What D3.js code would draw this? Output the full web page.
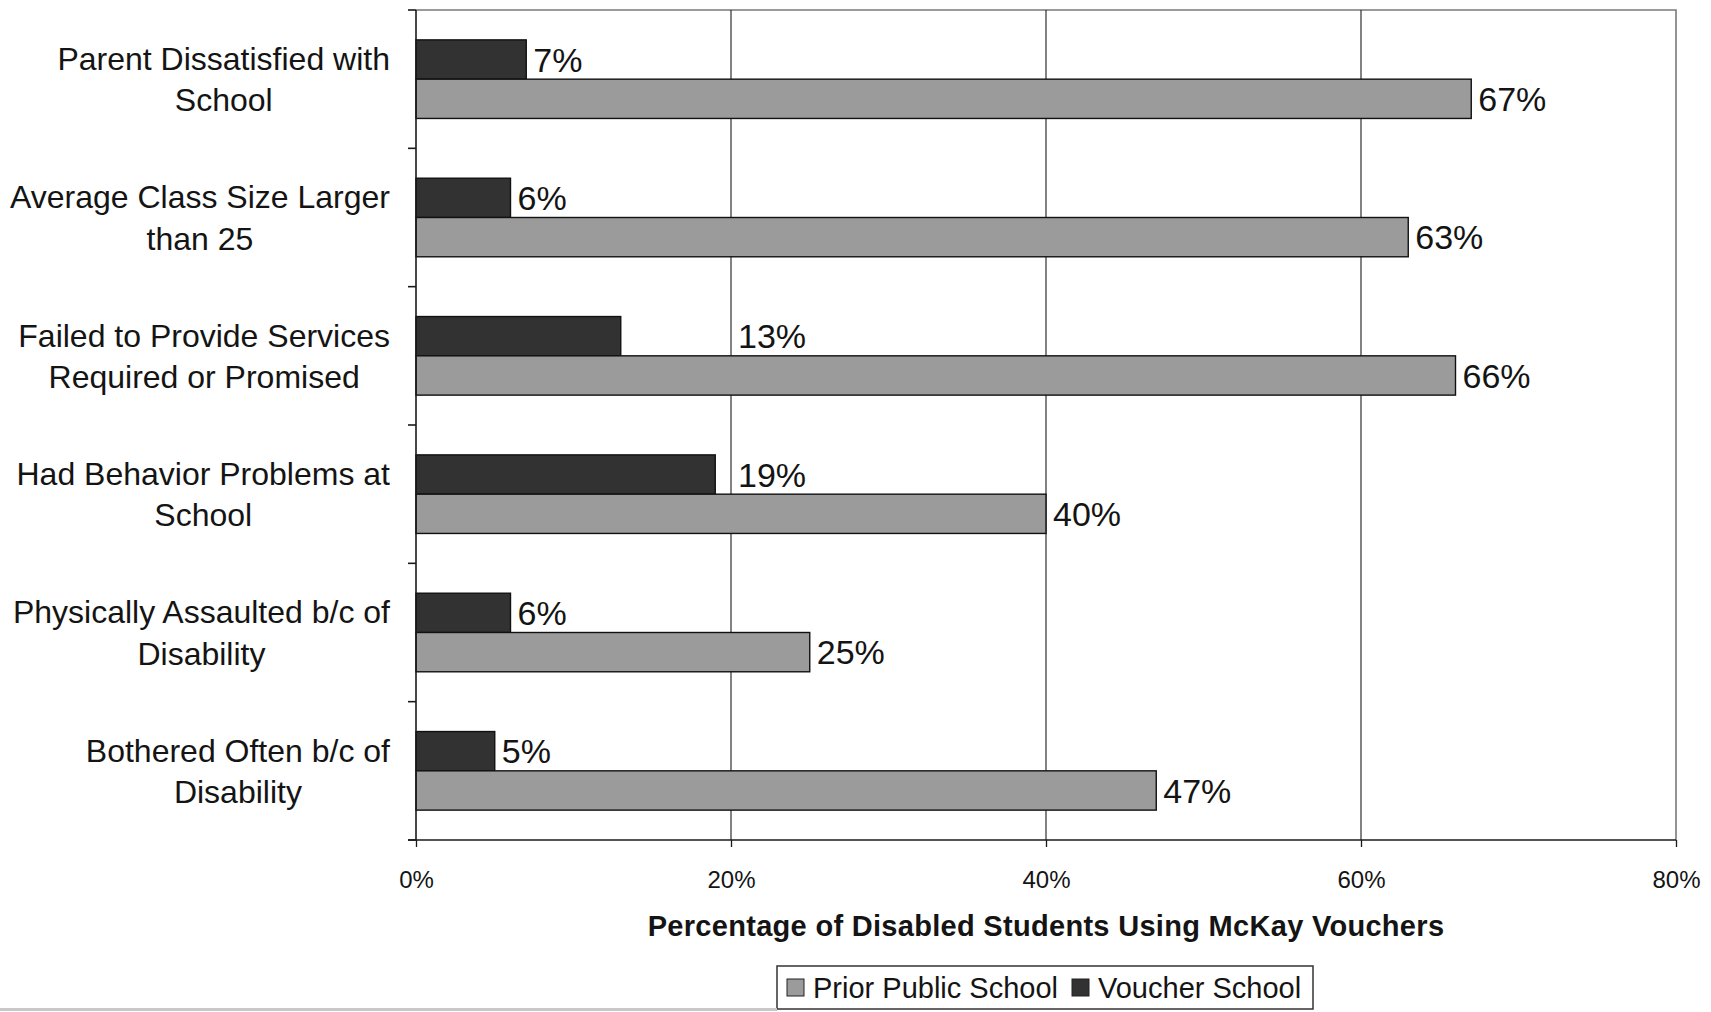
<!DOCTYPE html>
<html>
<head>
<meta charset="utf-8">
<script src="https://cdn.jsdelivr.net/npm/d3@7"></script>
<style>
  html, body { margin: 0; padding: 0; background: #ffffff; }
  svg { display: block; }
  text { font-family: "Liberation Sans", Arial, Helvetica, sans-serif; fill: #141414; }
</style>
</head>
<body>
<svg id="chart" width="1711" height="1012"></svg>
<script>
// Reasons parents gave for leaving the prior public school, with the
// matching share reported at the McKay voucher school.
const categories = [
  "Parent Dissatisfied with\nSchool",
  "Average Class Size Larger\nthan 25",
  "Failed to Provide Services\nRequired or Promised",
  "Had Behavior Problems at\nSchool",
  "Physically Assaulted b/c of\nDisability",
  "Bothered Often b/c of\nDisability"
];
const seriesNames = ["Prior Public School", "Voucher School"];
const priorPublic = [67, 63, 66, 40, 25, 47];
const voucherSchool = [7, 6, 13, 19, 6, 5];
const xTicks = [0, 20, 40, 60, 80];
const xTitle = "Percentage of Disabled Students Using McKay Vouchers";

const colors = { "Prior Public School": "#9b9b9b", "Voucher School": "#323232" };

const svg = d3.select("#chart");
const W = 1711, H = 1012;
const plot = { left: 416, right: 1676, top: 10, bottom: 840 };

const x = d3.scaleLinear().domain([0, 80]).range([plot.left, plot.right]);
const y = d3.scaleBand().domain(categories)
  .range([plot.top, plot.bottom])
  .paddingInner(0.432).paddingOuter(0.216);
// Voucher bar sits above the prior-school bar inside each group
const barOrder = ["Voucher School", "Prior Public School"];
const ySub = d3.scaleBand().domain(barOrder).range([0, y.bandwidth()]);

const rows = categories.map((c, i) => ({
  category: c,
  "Prior Public School": priorPublic[i],
  "Voucher School": voucherSchool[i]
}));

// plot-area frame (top and right edges)
svg.append("path")
  .attr("d", `M${plot.left},${plot.top}H${plot.right}V${plot.bottom}`)
  .attr("fill", "none").attr("stroke", "#7a7a7a").attr("stroke-width", 1.6);

// vertical gridlines
svg.append("g").selectAll("line")
  .data(xTicks.filter(t => t > 0 && t < 80))
  .join("line")
  .attr("x1", d => x(d)).attr("x2", d => x(d))
  .attr("y1", plot.top).attr("y2", plot.bottom)
  .attr("stroke", "#1c1c1c").attr("stroke-width", 1.1);

// bars
const groups = svg.append("g").selectAll("g")
  .data(rows).join("g")
  .attr("transform", d => `translate(0,${y(d.category)})`);

groups.selectAll("rect")
  .data(d => barOrder.map(k => ({ key: k, value: d[k] })))
  .join("rect")
  .attr("x", x(0))
  .attr("y", d => ySub(d.key))
  .attr("width", d => x(d.value) - x(0))
  .attr("height", ySub.bandwidth())
  .attr("fill", d => colors[d.key])
  .attr("stroke", "#111").attr("stroke-width", 1.4);

// value labels; two-digit voucher labels are lined up just past the 20% gridline
const labelGap = 7;
groups.selectAll("text.value")
  .data(d => barOrder.map(k => ({ key: k, value: d[k] })))
  .join("text")
  .attr("class", "value")
  .attr("y", d => ySub(d.key) + ySub.bandwidth() / 2)
  .attr("dy", "0.36em")
  .style("font-size", "34px")
  .text(d => d.value + "%")
  .attr("x", d => {
    if (d.key === "Voucher School" && d.value >= 10 && d.value < 20) {
      return x(20) + labelGap;
    }
    return x(d.value) + labelGap;
  });

// y axis with outside ticks at category boundaries
const yAxis = svg.append("g");
yAxis.append("line")
  .attr("x1", plot.left).attr("x2", plot.left)
  .attr("y1", plot.top).attr("y2", plot.bottom)
  .attr("stroke", "#1a1a1a").attr("stroke-width", 1.6);
const boundaries = d3.range(categories.length + 1).map(i => plot.top + i * y.step());
yAxis.selectAll("line.tick").data(boundaries).join("line")
  .attr("class", "tick")
  .attr("x1", plot.left - 8).attr("x2", plot.left)
  .attr("y1", d => d).attr("y2", d => d)
  .attr("stroke", "#1a1a1a").attr("stroke-width", 1.6);

// category labels: two centred lines, block right-aligned against the axis
const labelRight = 390;
const lineStep = 41.5;
const catLabels = svg.append("g").selectAll("text")
  .data(categories).join("text")
  .style("font-size", "32px")
  .attr("text-anchor", "middle");
catLabels.each(function (c) {
  const t = d3.select(this);
  const lines = c.split("\n");
  const cy = y(c) + y.bandwidth() / 2;
  lines.forEach((ln, i) => {
    t.append("tspan")
      .attr("y", cy + (i - (lines.length - 1) / 2) * lineStep)
      .attr("dy", "0.36em")
      .text(ln);
  });
  let maxW = 0;
  t.selectAll("tspan").each(function () { maxW = Math.max(maxW, this.getComputedTextLength()); });
  t.selectAll("tspan").attr("x", labelRight - maxW / 2);
});

// x axis
const xAxis = d3.axisBottom(x)
  .tickValues(xTicks)
  .tickFormat(d => d + "%")
  .tickSize(7)
  .tickSizeOuter(0)
  .tickPadding(24);
const gx = svg.append("g")
  .attr("transform", `translate(0,${plot.bottom})`)
  .call(xAxis);
gx.select(".domain").attr("stroke", "#1a1a1a").attr("stroke-width", 1.6)
  .attr("d", `M${plot.left - 8},0H${plot.right}`);
gx.selectAll(".tick line").attr("stroke", "#1a1a1a").attr("stroke-width", 1.3);
gx.selectAll(".tick text")
  .style("font-size", "24px")
  .style("font-family", "'Liberation Sans', Arial, sans-serif")
  .attr("fill", "#141414");

// axis title
svg.append("text")
  .attr("x", (plot.left + plot.right) / 2)
  .attr("y", 926)
  .attr("dy", "0.36em")
  .attr("text-anchor", "middle")
  .style("font-size", "29px")
  .style("font-weight", "bold")
  .style("letter-spacing", "0.3px")
  .text(xTitle);

// legend
const legend = svg.append("g");
const lg = { x: 777, y: 966, w: 536, h: 43 };
legend.append("rect")
  .attr("x", lg.x).attr("y", lg.y).attr("width", lg.w).attr("height", lg.h)
  .attr("fill", "#fff").attr("stroke", "#333").attr("stroke-width", 1.5);
const cyL = lg.y + lg.h / 2;
const swatchX = [787, 1072];
const textX = [813, 1098];
seriesNames.forEach((s, i) => {
  legend.append("rect")
    .attr("x", swatchX[i]).attr("y", cyL - 8.5)
    .attr("width", 17).attr("height", 17)
    .attr("fill", colors[s]).attr("stroke", "#222").attr("stroke-width", 1);
  legend.append("text")
    .attr("x", textX[i]).attr("y", cyL).attr("dy", "0.36em")
    .style("font-size", "29px")
    .text(s);
});

// lower edge of the page
svg.append("line")
  .attr("x1", 0).attr("x2", lg.x)
  .attr("y1", H - 2.5).attr("y2", H - 2.5)
  .attr("stroke", "#c8c8c8").attr("stroke-width", 3);
</script>
</body>
</html>
